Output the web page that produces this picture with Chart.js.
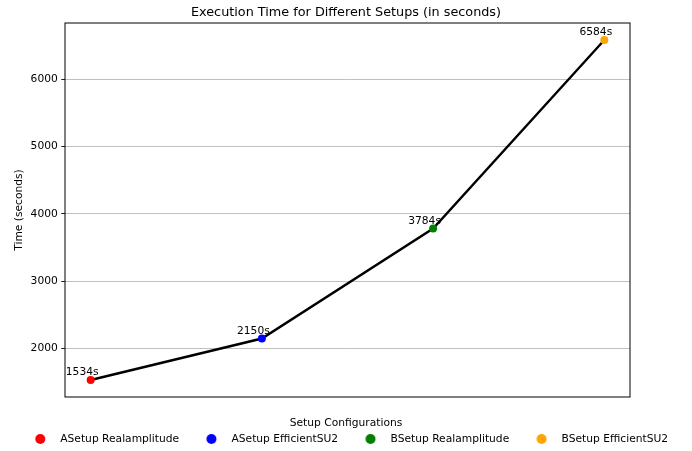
<!DOCTYPE html>
<html>
<head>
<meta charset="utf-8">
<script src="https://cdn.jsdelivr.net/npm/chart.js@4.4.1/dist/chart.umd.min.js"></script>
<style>
  body { margin: 0; background: #fff; }
</style>
</head>
<body>
<canvas id="chart" width="692" height="451"></canvas>
<script>
// data
const setups = ["ASetup Realamplitude", "ASetup EfficientSU2", "BSetup Realamplitude", "BSetup EfficientSU2"];
const times = [1534, 2150, 3784, 6584];
const pointColors = ["#ff0000", "#0000ff", "#008000", "#ffa500"];
const yTicks = [2000, 3000, 4000, 5000, 6000];

const FONT = "DejaVu Sans";
Chart.defaults.font.family = FONT;
Chart.defaults.font.size = 10.7;
Chart.defaults.color = "#000";

// legend marker: a circle sitting inside a wider transparent image
function legendDot(color) {
    let c = document.createElement("canvas");
    c.width = 31;
    c.height = 12;
    let g = c.getContext("2d");
    g.fillStyle = color;
    g.beginPath();
    g.arc(16.35, 6, 5, 0, Math.PI * 2);
    g.fill();
    return c;
}
const dots = pointColors.map(legendDot);

const frame = {
    id: "frame",
    beforeDatasetsDraw(chart) {
        const a = chart.chartArea, ctx = chart.ctx;
        ctx.save();
        ctx.strokeStyle = "#000";
        ctx.lineWidth = 1;
        ctx.strokeRect(a.left, a.top, a.right - a.left, a.bottom - a.top);
        // value labels
        const meta = chart.getDatasetMeta(0);
        ctx.font = "10.7px " + FONT;
        ctx.fillStyle = "#000";
        ctx.textAlign = "center";
        ctx.textBaseline = "alphabetic";
        meta.data.forEach((p, i) => {
            ctx.fillText(times[i] + "s", p.x - 8.5, p.y - 5);
        });
        ctx.restore();
    }
};

let ctx = document.getElementById("chart").getContext("2d");
let chart = new Chart(ctx, {
    type: "line",
    data: {
        datasets: [{
            label: "Execution time",
            data: times.map((t, i) => ({x: i, y: t})),
            borderColor: "#000",
            borderWidth: 2.4,
            tension: 0,
            pointRadius: 4,
            pointHoverRadius: 4,
            pointBorderWidth: 0,
            pointBackgroundColor: pointColors,
            pointBorderColor: pointColors
        }]
    },
    options: {
        responsive: false,
        animation: false,
        layout: { padding: { left: 0, right: 0, top: 0, bottom: -3.35 } },
        scales: {
            x: {
                type: "linear",
                display: false,
                min: -0.15,
                max: 3.15
            },
            y: {
                type: "linear",
                position: "left",
                min: 1281.5,
                max: 6836.5,
                afterBuildTicks: (s) => { s.ticks = yTicks.map(v => ({value: v})); },
                afterFit: (s) => { s.width = 65; },
                ticks: {
                    padding: 3.5,
                    color: "#000",
                    font: { size: 10.7 },
                    callback: (v) => String(v)
                },
                grid: {
                    color: "#b0b0b0",
                    lineWidth: 0.8,
                    tickColor: "#000",
                    tickLength: 3.7,
                    tickWidth: 0.9
                },
                border: { display: false },
                title: {
                    display: true,
                    text: "Time (seconds)",
                    color: "#000",
                    font: { size: 10.7 },
                    padding: { top: 12.5, bottom: 0 }
                }
            },
            yRight: {
                type: "linear",
                position: "right",
                display: true,
                ticks: { display: false },
                grid: { display: false, drawTicks: false },
                border: { display: false },
                afterFit: (s) => { s.width = 62; }
            }
        },
        plugins: {
            title: {
                display: true,
                text: "Execution Time for Different Setups (in seconds)",
                color: "#000",
                font: { size: 12.8, weight: "normal" },
                padding: { top: 4.8, bottom: 2.84 }
            },
            legend: {
                position: "bottom",
                align: "center",
                title: {
                    display: true,
                    text: "Setup Configurations",
                    color: "#000",
                    font: { size: 10.7 },
                    padding: { top: 20.65, bottom: -12.84 }
                },
                labels: {
                    usePointStyle: true,
                    pointStyleWidth: 31,
                    padding: 16,
                    color: "#000",
                    font: { size: 10.7 },
                    generateLabels: () => setups.map((name, i) => ({
                        text: name,
                        pointStyle: dots[i],
                        fillStyle: pointColors[i],
                        strokeStyle: pointColors[i],
                        lineWidth: 0,
                        hidden: false,
                        fontColor: "#000",
                        datasetIndex: 0
                    }))
                },
                onClick: () => {}
            },
            tooltip: { enabled: false }
        }
    },
    plugins: [frame]
});
</script>
</body>
</html>
